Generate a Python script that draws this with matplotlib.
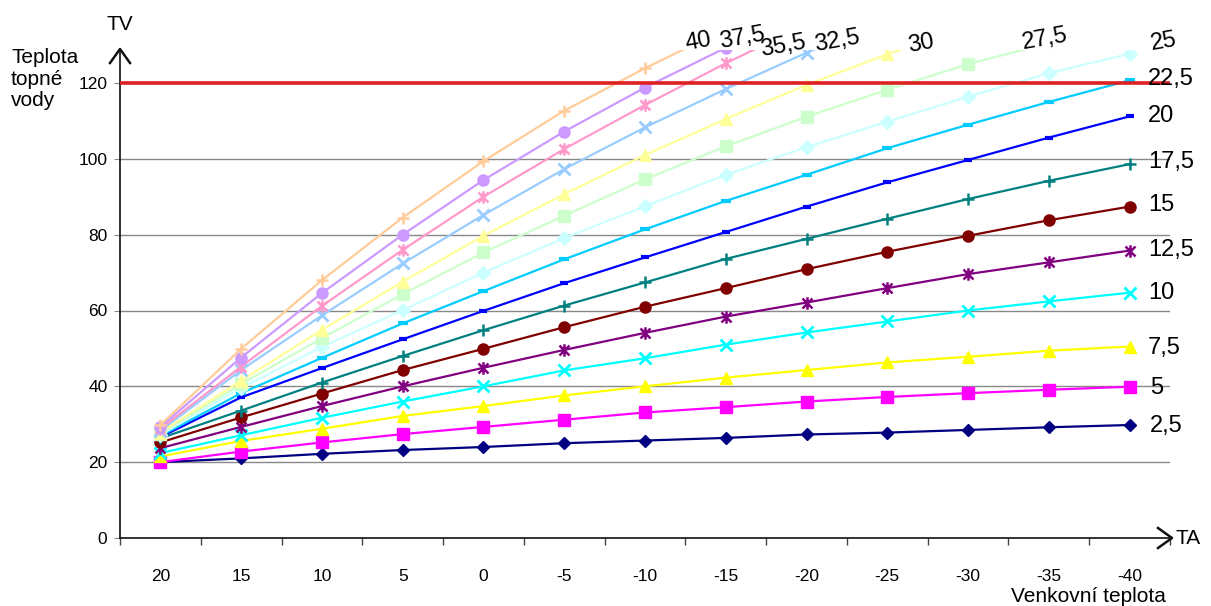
import numpy as np
import matplotlib
matplotlib.use("Agg")
import matplotlib.pyplot as plt
from matplotlib.path import Path

plt.rcParams['font.family'] = ['Liberation Sans', 'DejaVu Sans']

# ---------------- data ----------------
x_labels = ['20', '15', '10', '5', '0', '-5', '-10', '-15', '-20', '-25', '-30', '-35', '-40']
nan = np.nan

curve_names = ['2,5', '5', '7,5', '10', '12,5', '15', '17,5', '20',
               '22,5', '25', '27,5', '30', '32,5', '35,5', '37,5', '40']

c_2_5 = [20.0, 21.0, 22.2, 23.2, 24.0, 25.0, 25.7, 26.4, 27.3, 27.8, 28.5, 29.2, 29.8]
c_5 = [20.0, 22.8, 25.2, 27.4, 29.3, 31.2, 33.1, 34.5, 36.0, 37.2, 38.2, 39.1, 39.9]
c_7_5 = [21.5, 25.6, 28.8, 32.2, 34.8, 37.6, 40.0, 42.3, 44.3, 46.3, 47.8, 49.4, 50.5]
c_10 = [22.4, 27.1, 31.7, 36.0, 40.0, 44.2, 47.4, 51.0, 54.2, 57.1, 60.0, 62.4, 64.7]
c_12_5 = [23.7, 29.3, 34.8, 40.0, 44.9, 49.6, 54.1, 58.4, 62.1, 65.9, 69.6, 72.7, 75.8]
c_15 = [25.2, 31.8, 38.1, 44.3, 49.9, 55.6, 61.0, 65.9, 70.9, 75.5, 79.7, 83.8, 87.4]
c_17_5 = [26.3, 33.6, 41.0, 48.0, 54.8, 61.3, 67.4, 73.6, 78.9, 84.2, 89.4, 94.2, 98.6]
c_20 = [26.6, 37.1, 44.8, 52.4, 59.9, 67.2, 74.0, 80.7, 87.4, 93.8, 99.7, 105.6, 111.2]
c_22_5 = [26.9, 38.2, 47.5, 56.6, 65.1, 73.5, 81.4, 88.9, 95.8, 102.8, 109.0, 115.0, 120.7]
c_25 = [27.2, 39.6, 50.4, 60.1, 70.0, 79.1, 87.5, 95.8, 103.1, 109.8, 116.4, 122.6, 127.7]
c_27_5 = [27.5, 40.6, 52.7, 64.3, 75.3, 85.0, 94.6, 103.3, 111.1, 118.2, 125.0, 130.5, nan]
c_30 = [27.8, 41.5, 54.9, 67.6, 79.7, 90.7, 101.0, 110.5, 119.5, 127.6, 134.5, nan, nan]
c_32_5 = [28.3, 44.3, 58.7, 72.4, 85.2, 97.3, 108.3, 118.4, 128.0, 136.5, nan, nan, nan]
c_35_5 = [28.8, 45.2, 61.2, 76.0, 90.0, 102.6, 114.2, 125.2, 135.5, nan, nan, nan, nan]
c_37_5 = [29.3, 47.6, 64.6, 80.0, 94.4, 107.2, 118.8, 129.3, 139.0, nan, nan, nan, nan]
c_40 = [29.8, 49.9, 68.0, 84.5, 99.4, 112.7, 123.9, 134.3, nan, nan, nan, nan, nan]

series = [c_2_5, c_5, c_7_5, c_10, c_12_5, c_15, c_17_5, c_20,
          c_22_5, c_25, c_27_5, c_30, c_32_5, c_35_5, c_37_5, c_40]

limit_value = 120
y_ticks = [0, 20, 40, 60, 80, 100, 120]

# ---------------- styles ----------------
asterisk = Path([(-1, -1), (1, 1), (-1, 1), (1, -1), (0, -1.25), (0, 1.25)],
                [Path.MOVETO, Path.LINETO, Path.MOVETO, Path.LINETO, Path.MOVETO, Path.LINETO])

styles = [
    ('#000080', 'D', 6, 1.0),
    ('#FF00FF', 's', 8, 1.0),
    ('#FFFF00', '^', 9, 1.0),
    ('#00FFFF', 'x', 8, 2.0),
    ('#800080', asterisk, 9, 1.8),
    ('#800000', 'o', 8, 1.0),
    ('#008080', '+', 9, 1.8),
    ('#0000FF', '_', 6, 3.0),
    ('#00CCFF', '_', 7, 3.0),
    ('#CCFFFF', 'D', 7, 1.0),
    ('#CCFFCC', 's', 8, 1.0),
    ('#FFFF99', '^', 9, 1.0),
    ('#99CCFF', 'x', 8, 2.0),
    ('#FF99CC', asterisk, 9, 1.8),
    ('#CC99FF', 'o', 8, 1.0),
    ('#FFCC99', '+', 9, 1.8),
]

# label positions (figure pixels), rotation, alignment
label_pos = [
    (1150, 426, 0, 'left'), (1150, 388, 0, 'left'), (1148, 348, 0, 'left'),
    (1148, 293, 0, 'left'), (1148, 250, 0, 'left'), (1148, 205, 0, 'left'),
    (1148, 162, 0, 'left'), (1148, 116, 0, 'left'), (1148, 79, 0, 'left'),
    (1164, 42, 10, 'center'), (1045, 39, 10, 'center'), (921, 44, 10, 'center'),
    (837, 41, 10, 'center'), (783, 46, 10, 'center'), (742, 38, 10, 'center'),
    (698, 42, 10, 'center'),
]

W, H = 1211, 606
fig = plt.figure(figsize=(W / 100, H / 100), dpi=100)
ax_left, ax_right, ax_bottom, ax_top = 120, 1170, 538, 50
ax = fig.add_axes([ax_left / W, 1 - ax_bottom / H, (ax_right - ax_left) / W, (ax_bottom - ax_top) / H])

x = np.arange(len(x_labels))
ax.set_xlim(-0.5, len(x_labels) - 0.5)
ax.set_ylim(0, (ax_bottom - ax_top) / ((ax_bottom - 83) / 120))

for y in y_ticks[1:-1]:
    ax.axhline(y, color='#888888', lw=1.0, zorder=1)

for i, (vals, (col, mk, ms, mew)) in enumerate(zip(series, styles)):
    ax.plot(x, vals, color=col, lw=1.6, marker=mk, markersize=ms, markeredgewidth=mew,
            markerfacecolor=col, markeredgecolor=col, zorder=2 + i * 0.01)

ax.axhline(limit_value, color='#DD2020', lw=2.6, zorder=5)

for sp in ['top', 'right']:
    ax.spines[sp].set_visible(False)
for sp in ['left', 'bottom']:
    ax.spines[sp].set_color('#111111')
    ax.spines[sp].set_linewidth(1.2)

ax.set_yticks(y_ticks)
ax.set_yticklabels([str(v) for v in y_ticks], fontsize=12.5)
ax.tick_params(axis='y', length=4, color='#888888', pad=5)

ax.set_xticks(x)
ax.set_xticklabels(x_labels, fontsize=12.5)
ax.tick_params(axis='x', which='major', length=0, pad=22)
ax.set_xticks(np.arange(-0.5, len(x_labels)), minor=True)
ax.tick_params(axis='x', which='minor', length=5, color='#444444', width=1)

# arrows (figure pixels -> inches)
def P(px, py):
    return (px / 100, (H - py) / 100)

tr = fig.dpi_scale_trans
for pts in ([(110, 63), (120, 49), (130, 63)], [(1158, 528), (1172, 538), (1158, 548)]):
    xs, ys = zip(*[P(*p) for p in pts])
    fig.add_artist(plt.Line2D(xs, ys, transform=tr, color='#111111', lw=1.8))

# texts
fig.text(*P(120, 24), 'TV', transform=tr, fontsize=15, ha='center', va='center')
fig.text(*P(11, 48), 'Teplota\ntopné\nvody', transform=tr, fontsize=15, ha='left', va='top',
         linespacing=1.18)
fig.text(*P(1176, 539), 'TA', transform=tr, fontsize=15, ha='left', va='center')
fig.text(*P(1088, 596), 'Venkovní teplota', transform=tr, fontsize=15, ha='center', va='center')

for name, (px, py, rot, ha) in zip(curve_names, label_pos):
    fig.text(*P(px, py), name, transform=tr, fontsize=17, ha=ha, va='center',
             rotation=rot, rotation_mode='anchor', zorder=10)

fig.savefig('out.png', dpi=100)
